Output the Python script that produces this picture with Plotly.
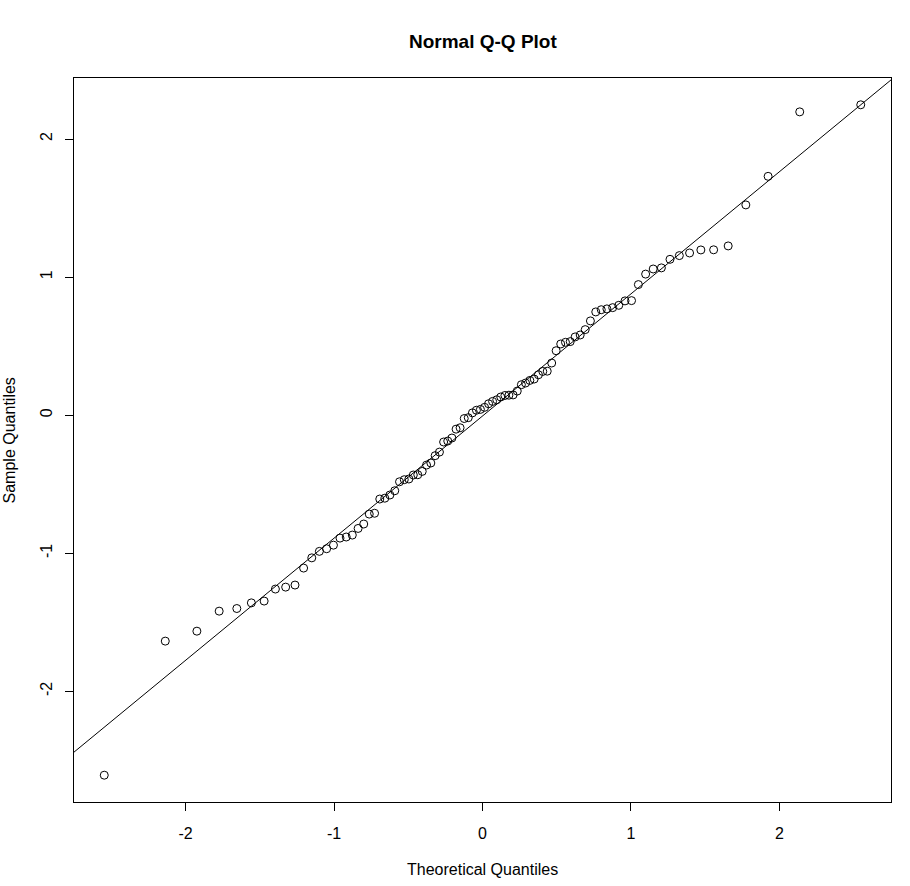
import numpy as np
import plotly.graph_objects as go

# Theoretical quantiles (n = 92)
theoretical = [
    -2.548, -2.137, -1.924, -1.774, -1.655, -1.557, -1.471, -1.395, -1.326, -1.263,
    -1.205, -1.150, -1.099, -1.050, -1.004, -0.960, -0.918, -0.877, -0.838, -0.800,
    -0.763, -0.727, -0.692, -0.658, -0.624, -0.591, -0.559, -0.527, -0.496, -0.466,
    -0.436, -0.406, -0.377, -0.348, -0.319, -0.290, -0.262, -0.234, -0.206, -0.178,
    -0.151, -0.123, -0.096, -0.068, -0.041, -0.014,
    0.014, 0.041, 0.068, 0.096, 0.123, 0.151, 0.178, 0.206, 0.234, 0.262,
    0.290, 0.319, 0.348, 0.377, 0.406, 0.436, 0.466, 0.496, 0.527, 0.559,
    0.591, 0.624, 0.658, 0.692, 0.727, 0.763, 0.800, 0.838, 0.877, 0.918,
    0.960, 1.004, 1.050, 1.099, 1.150, 1.205, 1.263, 1.326, 1.395, 1.471,
    1.557, 1.655, 1.774, 1.924, 2.137, 2.548,
]

# Sample quantiles (sorted)
sample = [
    -2.607, -1.636, -1.564, -1.419, -1.400, -1.359, -1.346, -1.259, -1.245, -1.230,
    -1.107, -1.033, -0.986, -0.967, -0.941, -0.890, -0.882, -0.868, -0.820, -0.788,
    -0.716, -0.710, -0.607, -0.601, -0.578, -0.547, -0.482, -0.467, -0.462, -0.433,
    -0.431, -0.407, -0.361, -0.346, -0.293, -0.267, -0.194, -0.187, -0.165, -0.101,
    -0.091, -0.024, -0.018, 0.017, 0.036, 0.042,
    0.057, 0.083, 0.100, 0.112, 0.132, 0.143, 0.145, 0.147, 0.175, 0.221,
    0.233, 0.252, 0.262, 0.293, 0.317, 0.319, 0.378, 0.467, 0.516, 0.528,
    0.533, 0.567, 0.581, 0.620, 0.683, 0.748, 0.764, 0.770, 0.779, 0.796,
    0.828, 0.830, 0.946, 1.022, 1.059, 1.067, 1.129, 1.156, 1.175, 1.197,
    1.198, 1.226, 1.523, 1.730, 2.197, 2.248,
]

x_ticks = [-2, -1, 0, 1, 2]
y_ticks = [-2, -1, 0, 1, 2]

FONT = "Liberation Sans, Arial, sans-serif"

# R-style axis ranges (4% extension)
def r_range(v):
    lo, hi = min(v), max(v)
    d = (hi - lo) * 0.04
    return [lo - d, hi + d]

xr = r_range(theoretical)
yr = r_range(sample)

# qqline through the quartiles
q1, q3 = np.percentile(sample, [25, 75])
z1, z3 = -0.6744898, 0.6744898
slope = (q3 - q1) / (z3 - z1)
icpt = q1 - slope * z1
lx = [xr[0] - 1, xr[1] + 1]
ly = [icpt + slope * v for v in lx]

fig = go.Figure()
fig.add_trace(go.Scatter(
    x=lx, y=ly, mode="lines",
    line=dict(color="black", width=1),
    hoverinfo="skip", showlegend=False,
))
fig.add_trace(go.Scatter(
    x=theoretical, y=sample, mode="markers",
    marker=dict(symbol="circle-open", size=8, color="black",
                line=dict(color="black", width=1)),
    showlegend=False,
))

axis_common = dict(
    showgrid=False, zeroline=False,
    showline=True, linecolor="black", linewidth=1, mirror=True,
    ticks="outside", ticklen=8, tickwidth=1, tickcolor="black",
    tickfont=dict(family=FONT, size=16, color="black"),
)

fig.update_xaxes(range=xr, tickvals=x_ticks, ticktext=[str(v) for v in x_ticks],
                 ticklabelstandoff=9, **axis_common)
fig.update_yaxes(range=yr, tickvals=y_ticks, ticktext=[str(v) for v in y_ticks],
                 tickangle=-90, ticklabelstandoff=7, **axis_common)

fig.update_layout(
    width=910, height=886,
    margin=dict(l=74, r=19, t=78, b=84),
    paper_bgcolor="white", plot_bgcolor="white",
    font=dict(family=FONT, color="black"),
    annotations=[
        dict(text="<b>Normal Q-Q Plot</b>", xref="paper", yref="paper",
             x=0.5, y=1.0511, xanchor="center", yanchor="middle",
             showarrow=False, font=dict(family=FONT, size=19, color="black")),
        dict(text="Theoretical Quantiles", xref="paper", yref="paper",
             x=0.5, y=-0.0939, xanchor="center", yanchor="middle",
             showarrow=False, font=dict(family=FONT, size=16, color="black")),
        dict(text="Sample Quantiles", xref="paper", yref="paper",
             x=-0.079, y=0.5, xanchor="center", yanchor="middle", textangle=-90,
             showarrow=False, font=dict(family=FONT, size=16, color="black")),
    ],
)

fig.write_html(
    "out.html",
    config={"displayModeBar": False},
    post_script="document.body.style.margin='0px';document.body.style.overflow='hidden';",
)
